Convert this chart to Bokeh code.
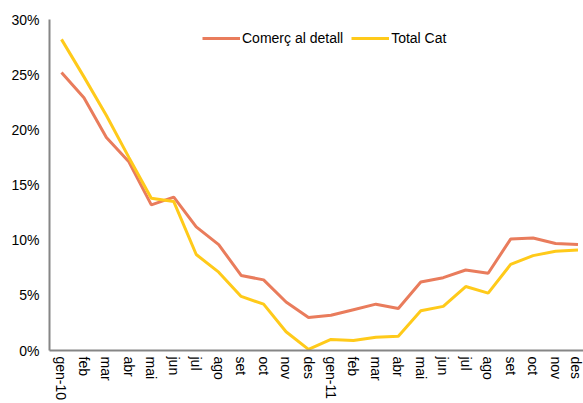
from bokeh.plotting import figure
from bokeh.models import FixedTicker, PrintfTickFormatter, Range1d
from bokeh.embed import file_html
from bokeh.resources import INLINE

months = ["gen-10", "feb", "mar", "abr", "mai", "jun", "jul", "ago", "set", "oct", "nov", "des",
          "gen-11", "feb", "mar", "abr", "mai", "jun", "jul", "ago", "set", "oct", "nov", "des"]
comerc = [25.2, 22.9, 19.3, 17.1, 13.2, 13.9, 11.2, 9.6, 6.8, 6.4, 4.4, 3.0,
          3.2, 3.7, 4.2, 3.8, 6.2, 6.6, 7.3, 7.0, 10.1, 10.2, 9.7, 9.6]
total_cat = [28.2, 24.8, 21.3, 17.5, 13.8, 13.5, 8.7, 7.1, 4.9, 4.2, 1.7, 0.1,
             1.0, 0.9, 1.2, 1.3, 3.6, 4.0, 5.8, 5.2, 7.8, 8.6, 9.0, 9.1]
y_ticks = [0, 5, 10, 15, 20, 25, 30]

xs = list(range(len(months)))
FONT = "Liberation Sans"

p = figure(width=583, height=403, output_backend="svg", toolbar_location=None,
           x_range=Range1d(-0.534, 23.245), y_range=Range1d(0, 30),
           min_border_left=49, min_border_right=0, min_border_top=19, min_border_bottom=52)
p.outline_line_color = None
p.xgrid.visible = False
p.ygrid.visible = False
p.background_fill_color = "white"
p.border_fill_color = "white"

p.line(xs, comerc, line_color="#E97C5C", line_width=3, legend_label="Comerç al detall")
p.line(xs, total_cat, line_color="#FFCA1A", line_width=3, legend_label="Total Cat")

for ax in (p.xaxis[0], p.yaxis[0]):
    ax.axis_line_color = "#868686"
    ax.axis_line_width = 2
    ax.major_tick_line_color = None
    ax.minor_tick_line_color = None
    ax.major_tick_out = 0
    ax.major_tick_in = 0
    ax.minor_tick_out = 0
    ax.major_label_text_font = FONT
    ax.major_label_text_font_size = "14px"
    ax.major_label_text_color = "#000000"

p.xaxis.ticker = FixedTicker(ticks=xs)
p.xaxis.major_label_overrides = {i: m for i, m in enumerate(months)}
p.xaxis.major_label_orientation = "vertical"
p.xaxis.major_label_standoff = 6

p.yaxis.ticker = FixedTicker(ticks=y_ticks)
p.yaxis.formatter = PrintfTickFormatter(format="%d%%")
p.yaxis.major_label_standoff = 10

lg = p.legend[0]
lg.orientation = "horizontal"
lg.location = (153, 302)
lg.padding = 0
lg.margin = 0
lg.border_line_color = None
lg.background_fill_alpha = 0
lg.label_text_font = FONT
lg.label_text_font_size = "14px"
lg.label_text_color = "#000000"
lg.glyph_width = 38
lg.glyph_height = 20
lg.label_height = 20
lg.label_standoff = 2
lg.spacing = 8

open("out.html", "w").write(file_html(p, INLINE))
